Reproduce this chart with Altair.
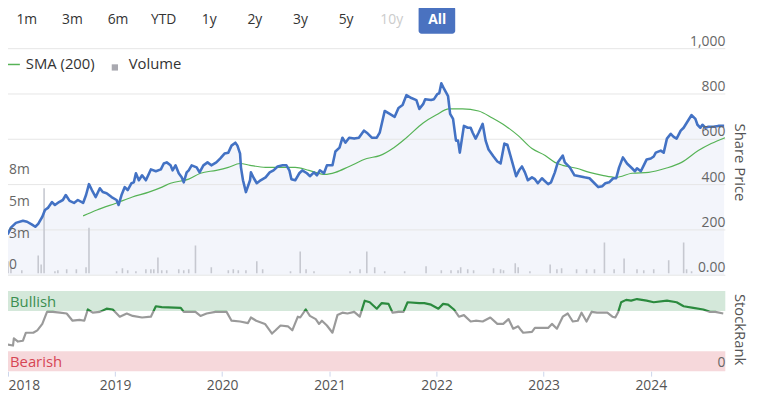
import altair as alt
import pandas as pd

FONT = "Open Sans"

# ---------------- data ----------------
price_dates = [
    "2017-12-18", "2018-01-01", "2018-01-11", "2018-01-28", "2018-02-21", "2018-03-07", "2018-03-24",
    "2018-04-04", "2018-04-14", "2018-04-28", "2018-05-07", "2018-05-17", "2018-05-31", "2018-06-10",
    "2018-06-24", "2018-07-07", "2018-07-17", "2018-07-30", "2018-08-14", "2018-08-27", "2018-09-14",
    "2018-09-24", "2018-10-04", "2018-10-14", "2018-10-27", "2018-11-10", "2018-11-20", "2018-12-03",
    "2018-12-20",
    "2019-01-06", "2019-01-13", "2019-01-23", "2019-02-03", "2019-02-13", "2019-02-26", "2019-03-06",
    "2019-03-13", "2019-03-23", "2019-04-03", "2019-04-16", "2019-05-03", "2019-05-20", "2019-06-06",
    "2019-06-16", "2019-06-26", "2019-07-09", "2019-07-16", "2019-07-26", "2019-08-06", "2019-08-16",
    "2019-08-23", "2019-09-02", "2019-09-09", "2019-09-19", "2019-10-06", "2019-10-16", "2019-10-29",
    "2019-11-12", "2019-11-25", "2019-12-12", "2019-12-25",
    "2020-01-09", "2020-01-22", "2020-02-02", "2020-02-15", "2020-02-22", "2020-03-02", "2020-03-05",
    "2020-03-12", "2020-03-22", "2020-04-05", "2020-04-08", "2020-04-18", "2020-04-28", "2020-05-11",
    "2020-05-28", "2020-06-11", "2020-06-24", "2020-07-08", "2020-07-25", "2020-08-07", "2020-08-17",
    "2020-08-24", "2020-09-06", "2020-09-20", "2020-09-30", "2020-10-16", "2020-10-26", "2020-11-09",
    "2020-11-19", "2020-11-29", "2020-12-13", "2020-12-23",
    "2021-01-11", "2021-01-21", "2021-02-04", "2021-02-14", "2021-02-24", "2021-03-09", "2021-03-26",
    "2021-04-11", "2021-04-28", "2021-05-08", "2021-05-25", "2021-06-11", "2021-06-21", "2021-07-08",
    "2021-07-25", "2021-08-11", "2021-08-24", "2021-09-07", "2021-09-20", "2021-10-07", "2021-10-24",
    "2021-11-03", "2021-11-16", "2021-11-23", "2021-12-13", "2021-12-23",
    "2022-01-03", "2022-01-10", "2022-01-17", "2022-01-27", "2022-02-09", "2022-02-16", "2022-02-26",
    "2022-03-08", "2022-03-15", "2022-03-21", "2022-04-04", "2022-04-17", "2022-04-27", "2022-05-04",
    "2022-05-14", "2022-05-24", "2022-06-07", "2022-06-17", "2022-06-27", "2022-07-14", "2022-07-27",
    "2022-08-07", "2022-08-20", "2022-08-30", "2022-09-16", "2022-09-29", "2022-10-09", "2022-10-19",
    "2022-10-29", "2022-11-08", "2022-11-22", "2022-12-02", "2022-12-12", "2022-12-26",
    "2023-01-02", "2023-01-16", "2023-01-26", "2023-02-08", "2023-02-18", "2023-03-07", "2023-03-14",
    "2023-03-31", "2023-04-16", "2023-05-03", "2023-05-20", "2023-06-06", "2023-06-23", "2023-07-06",
    "2023-07-20", "2023-07-30", "2023-08-12", "2023-08-26", "2023-09-05", "2023-09-15", "2023-09-28",
    "2023-10-12", "2023-10-29", "2023-11-08", "2023-11-15", "2023-11-28", "2023-12-08", "2023-12-18",
    "2024-01-01", "2024-01-11", "2024-01-18", "2024-02-04", "2024-02-14", "2024-02-25", "2024-03-09",
    "2024-03-19", "2024-03-29", "2024-04-12", "2024-04-22", "2024-05-02", "2024-05-19", "2024-06-01",
    "2024-06-08", "2024-06-18", "2024-06-25", "2024-07-05", "2024-07-15", "2024-08-01", "2024-08-18",
    "2024-09-07",
]
price_values = [
    192, 183, 210, 231, 240, 236, 223,
    214, 227, 258, 288, 297, 323, 310,
    323, 332, 354, 328, 319, 332, 319,
    354, 402, 376, 345, 384, 367, 362,
    345,
    332, 310, 354, 389, 376, 406, 410,
    450, 419, 441, 419, 467, 459, 467,
    493, 498, 485, 463, 485, 450, 432,
    410, 454, 463, 485, 476, 454, 485,
    498, 485, 498, 515,
    537, 541, 572, 585, 572, 537, 476,
    419, 367, 419, 454, 428, 406, 419,
    432, 454, 463, 480, 485, 485, 463,
    424, 419, 450, 463, 450, 437, 454,
    441, 463, 450, 485,
    485, 546, 563, 607, 585, 607, 603,
    607, 638, 629, 607, 607, 629, 725,
    712, 699, 738, 751, 795, 782, 773,
    734, 755, 777, 773, 777,
    799, 803, 847, 821, 790, 712, 690,
    594, 594, 541, 659, 651, 651, 629,
    603, 629, 668, 594, 555, 524, 502,
    493, 581, 576, 498, 437, 463, 480,
    454, 419, 432, 424, 406, 428,
    419, 402, 410, 454, 498, 528, 498,
    476, 441, 437, 432, 428, 406, 389,
    393, 406, 410, 428, 428, 476, 520,
    493, 472, 459, 472, 459, 485, 511,
    515, 524, 541, 550, 541, 603, 624,
    611, 603, 638, 651, 672, 707, 690,
    664, 651, 664, 651, 655, 655, 659,
    659,
]

sma_dates = [
    "2018-09-14", "2018-10-31", "2019-01-06", "2019-03-01", "2019-04-26", "2019-06-10", "2019-07-09",
    "2019-09-09", "2019-10-19", "2019-12-12", "2020-01-22", "2020-03-02", "2020-04-05", "2020-05-28",
    "2020-07-25", "2020-09-06", "2020-10-23", "2020-12-16", "2021-01-21", "2021-03-09", "2021-05-08",
    "2021-06-21", "2021-08-08", "2021-09-20", "2021-11-16", "2021-12-30", "2022-02-12", "2022-03-30",
    "2022-05-24", "2022-07-10", "2022-08-24", "2022-10-06", "2022-11-22", "2023-01-06", "2023-02-08",
    "2023-03-07", "2023-04-23", "2023-06-06", "2023-07-20", "2023-09-05", "2023-10-29", "2023-12-25",
    "2024-02-21", "2024-04-15", "2024-06-11", "2024-07-25", "2024-09-10",
]
sma_values = [
    262, 288, 319, 345, 367, 389, 406,
    424, 450, 463, 476, 493, 485, 476,
    476, 476, 463, 445, 454, 480, 515,
    528, 563, 607, 672, 707, 734, 734,
    725, 694, 659, 616, 559, 528, 498,
    485, 472, 454, 441, 432, 450, 454,
    472, 498, 550, 581, 607,
]

rank_dates = [
    "2017-12-08", "2018-01-18", "2018-01-21", "2018-02-04", "2018-02-21", "2018-03-03", "2018-03-28",
    "2018-04-11", "2018-04-28", "2018-05-14", "2018-06-03", "2018-06-27", "2018-07-20", "2018-08-09",
    "2018-09-02", "2018-09-18", "2018-09-30", "2018-10-17", "2018-11-10", "2018-12-03", "2018-12-24",
    "2019-01-17", "2019-02-10", "2019-03-02", "2019-04-03", "2019-05-03", "2019-05-20", "2019-06-09",
    "2019-08-13", "2019-08-23", "2019-10-02", "2019-10-19", "2019-11-09", "2019-12-09", "2019-12-25",
    "2020-01-16", "2020-02-02", "2020-03-02", "2020-03-29", "2020-04-08", "2020-04-26", "2020-05-26",
    "2020-06-19", "2020-07-01", "2020-07-18", "2020-08-12", "2020-08-27", "2020-09-15", "2020-09-23",
    "2020-10-12", "2020-10-26", "2020-11-15", "2020-11-26", "2020-12-06", "2020-12-23",
    "2021-01-11", "2021-01-28", "2021-02-14", "2021-03-03", "2021-03-26", "2021-04-14", "2021-05-01",
    "2021-05-18", "2021-06-11", "2021-06-28", "2021-07-21", "2021-08-04", "2021-08-24", "2021-09-10",
    "2021-09-24", "2021-11-03", "2021-11-20", "2021-12-13",
    "2022-01-07", "2022-01-23", "2022-02-09", "2022-03-01", "2022-03-18", "2022-04-04", "2022-04-27",
    "2022-05-14", "2022-06-07", "2022-07-03", "2022-07-27", "2022-08-16", "2022-09-03", "2022-09-19",
    "2022-10-06", "2022-10-16", "2022-10-23", "2022-11-22", "2022-12-02", "2022-12-26",
    "2023-01-16", "2023-01-29", "2023-02-15", "2023-03-07", "2023-03-24", "2023-04-10", "2023-04-27",
    "2023-05-10", "2023-05-27", "2023-06-13", "2023-07-02", "2023-08-06", "2023-08-23", "2023-09-02",
    "2023-09-12", "2023-09-22", "2023-10-09", "2023-10-26", "2023-11-15", "2023-12-18",
    "2024-01-11", "2024-02-25", "2024-03-29", "2024-04-22", "2024-05-25", "2024-06-28", "2024-07-21",
    "2024-08-08", "2024-09-04",
]
rank_values = [
    35, 32, 41, 37, 38, 48, 48,
    51, 59, 74, 74, 73, 72, 63,
    64, 63, 77, 73, 74, 78, 77,
    68, 72, 69, 67, 68, 81, 80,
    79, 74, 74, 69, 72, 74, 74,
    74, 63, 62, 60, 67, 63, 59,
    47, 51, 57, 56, 51, 68, 67,
    77, 69, 65, 59, 63, 57,
    48, 70, 73, 72, 74, 68, 88,
    86, 78, 85, 84, 73, 74, 74,
    86, 85, 85, 83,
    78, 84, 83, 77, 68, 70, 62,
    63, 62, 67, 59, 59, 65, 53,
    56, 51, 48, 49, 54, 54,
    54, 59, 53, 68, 72, 62, 63,
    73, 62, 74, 73, 73, 68, 67,
    74, 86, 89, 88, 90, 88,
    86, 88, 86, 81, 79, 77, 74,
    74, 72,
]

volume_dates = [
    "2018-01-01", "2018-01-11", "2018-02-17", "2018-04-14", "2018-04-24", "2018-05-04", "2018-06-10",
    "2018-06-20", "2018-07-20", "2018-08-22", "2018-09-24", "2018-10-04",
    "2019-01-06", "2019-01-26", "2019-02-13", "2019-03-13", "2019-04-16", "2019-05-03", "2019-05-13",
    "2019-05-27", "2019-06-09", "2019-06-26", "2019-08-06", "2019-08-23", "2019-09-09", "2019-10-02",
    "2019-11-25",
    "2020-01-22", "2020-02-08", "2020-02-25", "2020-03-22", "2020-04-28", "2020-05-18", "2020-08-21",
    "2020-09-23", "2020-10-13", "2020-11-09",
    "2021-03-12", "2021-04-15", "2021-05-08", "2021-06-04", "2021-07-08", "2021-09-14", "2021-11-26",
    "2022-01-17", "2022-02-19", "2022-03-15", "2022-03-24", "2022-04-17", "2022-05-07", "2022-07-14",
    "2022-08-07", "2022-08-17", "2022-09-26", "2022-10-06", "2022-11-15",
    "2023-01-23", "2023-02-15", "2023-03-03", "2023-04-23", "2023-05-27", "2023-06-23", "2023-07-27",
    "2023-08-29", "2023-10-02", "2023-11-15", "2023-12-08",
    "2024-01-11", "2024-03-02", "2024-04-22", "2024-05-02", "2024-05-19",
]
volume_millions = [
    0.94, 0.47, 0.23, 1.41, 0.70, 6.72, 0.16,
    0.23, 0.31, 0.31, 0.47, 3.59,
    0.16, 0.39, 0.23, 0.16, 0.31, 0.31, 0.31,
    1.25, 0.23, 0.23, 0.31, 0.23, 0.31, 2.19,
    0.47,
    0.23, 0.31, 0.23, 0.23, 0.94, 0.31, 0.16,
    1.72, 0.31, 0.16,
    0.16, 0.31, 1.72, 0.47, 0.16, 0.16, 0.55,
    0.23, 0.23, 0.23, 0.47, 0.31, 0.23, 0.39,
    0.31, 0.23, 0.78, 0.47, 0.16,
    0.70, 0.31, 0.39, 0.31, 0.31, 0.31, 2.42,
    0.31, 1.17, 0.31, 0.23,
    0.31, 1.02, 2.42, 0.31, 0.16,
]

price_ticks = [0, 200, 400, 600, 800, 1000]
price_tick_labels = ["0.00", "200", "400", "600", "800", "1,000"]
volume_ticks = [0, 2.5, 5, 7.5]
volume_tick_labels = ["0", "3m", "5m", "8m"]
year_ticks = [2018, 2019, 2020, 2021, 2022, 2023, 2024]
band_names = ["Bullish", "Bearish"]
band_low = [75, 0]
band_high = [100, 25]
bull_threshold = 75
range_buttons = ["1m", "3m", "6m", "YTD", "1y", "2y", "3y", "5y", "10y", "All"]

# ---------------- layout / style ----------------
W, H = 725, 365
BLUE = "#4372c4"
SMA_GREEN = "#56b356"
RANK_GREEN = "#2b8a3e"
RANK_GREY = "#9a9a9a"
GRID = "#e6e6e6"
LABEL = "#666666"

price_df = pd.DataFrame({"date": price_dates, "price": price_values})
sma_df = pd.DataFrame({"date": sma_dates, "sma": sma_values})
rank_df = pd.DataFrame({"date": rank_dates, "rank": rank_values})
vol_df = pd.DataFrame({"date": volume_dates, "vol": volume_millions})
pgrid_df = pd.DataFrame({"v": price_ticks, "label": price_tick_labels})
vgrid_df = pd.DataFrame({"v": volume_ticks, "label": volume_tick_labels})
band_df = pd.DataFrame({"name": band_names, "lo": band_low, "hi": band_high})

X_DOMAIN = [alt.DateTime(year=2018, month=1, date=1), alt.DateTime(year=2024, month=9, date=11)]
XAXIS = alt.Axis(
    values=[alt.DateTime(year=y, month=1, date=1) for y in year_ticks],
    format="%Y", title=None, grid=False, domain=False,
    labelFont=FONT, labelFontSize=14, labelColor="#555555", labelFlush=True, labelPadding=3,
    tickColor="#ccd6eb", tickSize=5,
)


def X(field="date"):
    return alt.X(f"{field}:T", scale=alt.Scale(domain=X_DOMAIN), axis=XAXIS)


PRICE_SCALE = alt.Scale(domain=[0, 1000], range=[268, 39])
VOL_SCALE = alt.Scale(domain=[0, 10], range=[266, 138])
RANK_SCALE = alt.Scale(domain=[0, 100], range=[365, 284])

layers = []

# price area fill
layers.append(alt.Chart(price_df).mark_area(color="#f3f5fb", clip=True).encode(
    x=X(), y=alt.Y("price:Q", scale=PRICE_SCALE, axis=None)))

# price gridlines
layers.append(alt.Chart(pgrid_df).mark_rule(color=GRID, strokeWidth=1).encode(
    y=alt.Y("v:Q", scale=PRICE_SCALE, axis=None), x=alt.value(0), x2=alt.value(W)))

# volume bars
layers.append(alt.Chart(vol_df).mark_rule(color="#c6c8d0", strokeWidth=1.6, clip=True).encode(
    x=X(), y=alt.Y("vol:Q", scale=VOL_SCALE, axis=None), y2=alt.datum(0)))

# SMA line
layers.append(alt.Chart(sma_df).mark_line(color=SMA_GREEN, strokeWidth=1.2, clip=True,
                                           interpolate="monotone").encode(
    x=X(), y=alt.Y("sma:Q", scale=PRICE_SCALE, axis=None)))

# price line
layers.append(alt.Chart(price_df).mark_line(color=BLUE, strokeWidth=2.6, clip=True,
                                            strokeJoin="round").encode(
    x=X(), y=alt.Y("price:Q", scale=PRICE_SCALE, axis=None)))

# price tick labels (right)
layers.append(alt.Chart(pgrid_df).mark_text(align="right", baseline="middle", dy=-7, font=FONT,
                                            fontSize=14, color=LABEL).encode(
    y=alt.Y("v:Q", scale=PRICE_SCALE, axis=None), x=alt.value(W), text="label:N"))

# volume tick labels (left)
layers.append(alt.Chart(vgrid_df).mark_text(align="left", baseline="middle", dy=-8, font=FONT,
                                            fontSize=14, color=LABEL).encode(
    y=alt.Y("v:Q", scale=VOL_SCALE, axis=None), x=alt.value(1), text="label:N"))

# rank bands
band_colors = alt.Scale(domain=band_names, range=["#d4e8da", "#f6d8db"])
layers.append(alt.Chart(band_df).mark_rect().encode(
    y=alt.Y("lo:Q", scale=RANK_SCALE, axis=None), y2="hi:Q",
    x=alt.value(0), x2=alt.value(W),
    color=alt.Color("name:N", scale=band_colors, legend=None)))

# band labels
label_colors = alt.Scale(domain=band_names, range=["#3b8e50", "#d64553"])
layers.append(alt.Chart(band_df).transform_calculate(mid="(datum.lo + datum.hi) / 2").mark_text(
    align="left", baseline="middle", dy=1, font=FONT, fontSize=15).encode(
    y=alt.Y("mid:Q", scale=RANK_SCALE, axis=None), x=alt.value(2), text="name:N",
    color=alt.Color("name:N", scale=label_colors, legend=None)))

# rank line: green above the bullish threshold, grey below
rmax, rmin = max(rank_values), min(rank_values)
t = (rmax - bull_threshold) / (rmax - rmin)
rank_grad = alt.Gradient(
    gradient="linear",
    stops=[alt.GradientStop(color=RANK_GREEN, offset=0),
           alt.GradientStop(color=RANK_GREEN, offset=t),
           alt.GradientStop(color=RANK_GREY, offset=t),
           alt.GradientStop(color=RANK_GREY, offset=1)],
    x1=0, x2=0, y1=0, y2=1)
layers.append(alt.Chart(rank_df).mark_line(color=rank_grad, strokeWidth=2.2, clip=True,
                                           strokeJoin="round").encode(
    x=X(), y=alt.Y("rank:Q", scale=RANK_SCALE, axis=None)))

# rank "0" label
layers.append(alt.Chart(pd.DataFrame({"v": [0], "label": ["0"]})).mark_text(
    align="right", baseline="middle", dy=-8, font=FONT, fontSize=14, color=LABEL).encode(
    y=alt.Y("v:Q", scale=RANK_SCALE, axis=None), x=alt.value(W), text="label:N"))

# right-hand titles
for txt, yy in [("Share Price", 154), ("StockRank", 323)]:
    layers.append(alt.Chart(pd.DataFrame({"t": [txt]})).mark_text(
        angle=90, align="center", baseline="middle", font=FONT, fontSize=15, color="#555555").encode(
        x=alt.value(740), y=alt.value(yy), text="t:N"))

# legend
layers.append(alt.Chart(pd.DataFrame({"a": [0]})).mark_rule(color=SMA_GREEN, strokeWidth=1.5).encode(
    x=alt.value(-1), x2=alt.value(12), y=alt.value(55)))
layers.append(alt.Chart(pd.DataFrame({"t": ["SMA (200)"]})).mark_text(
    align="left", baseline="middle", font=FONT, fontSize=15, color="#333333").encode(
    x=alt.value(18), y=alt.value(55), text="t:N"))
layers.append(alt.Chart(pd.DataFrame({"a": [0]})).mark_square(size=40, color="#a9a9b0", opacity=1).encode(
    x=alt.value(108), y=alt.value(58)))
layers.append(alt.Chart(pd.DataFrame({"t": ["Volume"]})).mark_text(
    align="left", baseline="middle", font=FONT, fontSize=15, color="#333333").encode(
    x=alt.value(122), y=alt.value(55), text="t:N"))

# range selector buttons
layers.append(alt.Chart(pd.DataFrame({"a": [0]})).mark_rect(color="#4a72c0", cornerRadius=3).encode(
    x=alt.value(415), x2=alt.value(452), y=alt.value(-4), y2=alt.value(24)))
for i, b in enumerate(range_buttons):
    col = "#333333"
    weight = "normal"
    if b == "10y":
        col = "#cccccc"
    if b == "All":
        col = "#ffffff"
        weight = "bold"
    layers.append(alt.Chart(pd.DataFrame({"t": [b]})).mark_text(
        align="center", baseline="middle", font=FONT, fontSize=14, color=col, fontWeight=weight).encode(
        x=alt.value(19 + i * 46.1), y=alt.value(10), text="t:N"))

chart = alt.layer(*layers).resolve_scale(y="independent", color="independent").properties(
    width=W, height=H,
    autosize=alt.AutoSizeParams(type="none"),
    padding={"left": 0, "top": 0, "right": 29, "bottom": 24},
    background="white",
).configure_view(stroke=None)

chart.save("out.html", embed_options={"renderer": "svg", "actions": False})
